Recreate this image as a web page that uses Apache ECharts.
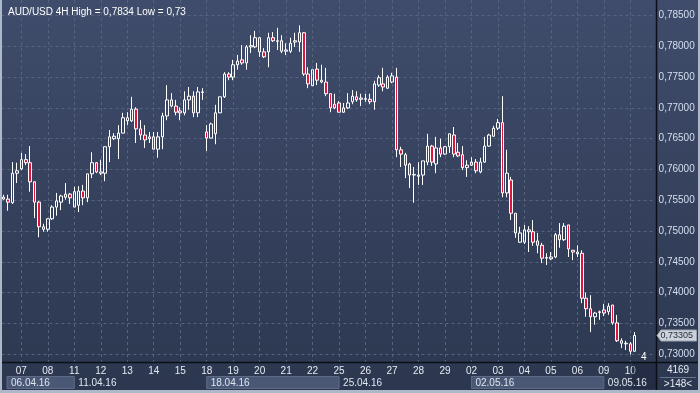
<!DOCTYPE html>
<html><head><meta charset="utf-8">
<script src="https://cdn.jsdelivr.net/npm/echarts@6/dist/echarts.min.js"></script>
<style>html,body{margin:0;padding:0;background:#2d3850}#c{width:700px;height:393px}</style>
</head><body><div id="c"></div><script>
// ---- data (AUD/USD, 4H) ----
const days = ['06.04.16','07.04.16','08.04.16','11.04.16','12.04.16','13.04.16','14.04.16','15.04.16',
  '18.04.16','19.04.16','20.04.16','21.04.16','22.04.16','25.04.16','26.04.16','27.04.16','28.04.16','29.04.16',
  '02.05.16','03.05.16','04.05.16','05.05.16','06.05.16','09.05.16','10.05.16'];
const hours = ['00:00','04:00','08:00','12:00','16:00','20:00'];
const firstDayHours = ['08:00','12:00','16:00','20:00'];
const weekLabels = ['06.04.16','11.04.16','18.04.16','25.04.16','02.05.16','09.05.16'];
const opens = [0.7552,0.7552,0.7546,0.7594,0.7601,0.7616,0.7611,0.7580,0.7547,0.7503,
0.7503,0.7520,0.7539,0.7547,0.7555,0.7560,0.7539,0.7542,0.7565,0.7554,
0.7593,0.7611,0.7594,0.7594,0.7637,0.7650,0.7650,0.7659,0.7679,0.7679,
0.7698,0.7666,0.7656,0.7650,0.7653,0.7633,0.7653,0.7687,0.7713,0.7703,
0.7695,0.7692,0.7713,0.7719,0.7692,0.7725,0.7661,0.7651,0.7658,0.7692,
0.7718,0.7755,0.7750,0.7770,0.7778,0.7773,0.7799,0.7799,0.7814,0.7791,
0.7791,0.7814,0.7808,0.7809,0.7792,0.7792,0.7807,0.7807,0.7822,0.7755,
0.7736,0.7763,0.7745,0.7742,0.7723,0.7706,0.7708,0.7693,0.7700,0.7710,
0.7718,0.7714,0.7714,0.7714,0.7710,0.7737,0.7739,0.7732,0.7742,0.7750,
0.7632,0.7624,0.7609,0.7591,0.7589,0.7591,0.7612,0.7638,0.7609,0.7635,
0.7625,0.7637,0.7656,0.7628,0.7624,0.7603,0.7607,0.7612,0.7596,0.7612,
0.7638,0.7654,0.7667,0.7676,0.7562,0.7583,0.7529,0.7482,0.7482,0.7499,
0.7499,0.7484,0.7477,0.7456,0.7455,0.7458,0.7494,0.7486,0.7510,0.7469,
0.7463,0.7464,0.7391,0.7374,0.7361,0.7368,0.7372,0.7369,0.7380,0.7351,
0.7318,0.7317,0.7317,0.7305];
const closes = [0.7555,0.7547,0.7594,0.7598,0.7616,0.7611,0.7580,0.7547,0.7507,0.7507,
0.7520,0.7539,0.7549,0.7557,0.7560,0.7554,0.7564,0.7565,0.7554,0.7593,
0.7611,0.7596,0.7596,0.7637,0.7653,0.7654,0.7659,0.7684,0.7684,0.7698,
0.7666,0.7656,0.7648,0.7653,0.7633,0.7653,0.7687,0.7713,0.7703,0.7693,
0.7692,0.7713,0.7719,0.7692,0.7726,0.7726,0.7651,0.7674,0.7692,0.7718,
0.7755,0.7750,0.7770,0.7776,0.7773,0.7799,0.7801,0.7814,0.7791,0.7783,
0.7814,0.7809,0.7809,0.7792,0.7794,0.7805,0.7809,0.7822,0.7755,0.7739,
0.7762,0.7745,0.7742,0.7723,0.7700,0.7700,0.7693,0.7700,0.7708,0.7719,
0.7713,0.7716,0.7715,0.7710,0.7739,0.7749,0.7734,0.7750,0.7752,0.7632,
0.7625,0.7607,0.7591,0.7592,0.7591,0.7614,0.7638,0.7612,0.7635,0.7625,
0.7637,0.7658,0.7625,0.7622,0.7603,0.7607,0.7612,0.7598,0.7612,0.7638,
0.7656,0.7667,0.7676,0.7562,0.7594,0.7529,0.7497,0.7497,0.7502,0.7502,
0.7482,0.7477,0.7456,0.7457,0.7458,0.7494,0.7486,0.7508,0.7471,0.7466,
0.7466,0.7391,0.7374,0.7361,0.7367,0.7369,0.7367,0.7378,0.7351,0.7322,
0.7322,0.7318,0.7305,0.73305];
const lows = [0.7551,0.7533,0.7544,0.7578,0.7599,0.7607,0.7564,0.7521,0.7490,0.7499,
0.7499,0.7518,0.7525,0.7534,0.7551,0.7544,0.7539,0.7531,0.7542,0.7547,
0.7586,0.7594,0.7591,0.7581,0.7612,0.7648,0.7617,0.7659,0.7672,0.7677,
0.7643,0.7648,0.7635,0.7643,0.7633,0.7619,0.7633,0.7680,0.7701,0.7688,
0.7680,0.7688,0.7697,0.7685,0.7685,0.7713,0.7630,0.7650,0.7641,0.7692,
0.7716,0.7745,0.7745,0.7762,0.7770,0.7762,0.7789,0.7797,0.7783,0.7781,
0.7766,0.7807,0.7794,0.7789,0.7786,0.7789,0.7799,0.7791,0.7752,0.7732,
0.7736,0.7737,0.7740,0.7719,0.7693,0.7698,0.7693,0.7692,0.7698,0.7706,
0.7710,0.7703,0.7710,0.7706,0.7697,0.7734,0.7727,0.7731,0.7740,0.7620,
0.7604,0.7586,0.7570,0.7546,0.7575,0.7575,0.7607,0.7606,0.7594,0.7620,
0.7624,0.7627,0.7620,0.7620,0.7599,0.7588,0.7606,0.7594,0.7594,0.7611,
0.7637,0.7653,0.7664,0.7555,0.7555,0.7518,0.7489,0.7481,0.7479,0.7466,
0.7476,0.7464,0.7448,0.7445,0.7453,0.7456,0.7473,0.7484,0.7458,0.7453,
0.7458,0.7383,0.7361,0.7336,0.7348,0.7356,0.7362,0.7364,0.7348,0.7320,
0.7310,0.7307,0.7300,0.7304];
const highs = [0.7559,0.7559,0.7612,0.7611,0.7627,0.7625,0.7638,0.7581,0.7549,0.7512,
0.7521,0.7542,0.7562,0.7559,0.7578,0.7562,0.7572,0.7573,0.7575,0.7593,
0.7628,0.7612,0.7616,0.7637,0.7664,0.7659,0.7672,0.7692,0.7693,0.7718,
0.7701,0.7680,0.7672,0.7661,0.7661,0.7661,0.7692,0.7737,0.7724,0.7713,
0.7701,0.7727,0.7734,0.7727,0.7734,0.7732,0.7672,0.7676,0.7705,0.7718,
0.7758,0.7758,0.7778,0.7786,0.7802,0.7802,0.7818,0.7825,0.7815,0.7797,
0.7822,0.7823,0.7830,0.7818,0.7805,0.7814,0.7822,0.7834,0.7823,0.7766,
0.7762,0.7773,0.7770,0.7765,0.7723,0.7723,0.7711,0.7708,0.7724,0.7729,
0.7727,0.7723,0.7723,0.7723,0.7744,0.7753,0.7765,0.7753,0.7757,0.7765,
0.7637,0.7627,0.7611,0.7604,0.7612,0.7614,0.7658,0.7640,0.7653,0.7650,
0.7638,0.7658,0.7669,0.7643,0.7638,0.7615,0.7620,0.7617,0.7619,0.7653,
0.7658,0.7671,0.7682,0.7719,0.7632,0.7588,0.7529,0.7507,0.7510,0.7508,
0.7518,0.7497,0.7481,0.7464,0.7466,0.7497,0.7513,0.7513,0.7510,0.7469,
0.7477,0.7469,0.7400,0.7396,0.7369,0.7371,0.7382,0.7383,0.7380,0.7364,
0.7326,0.7322,0.7320,0.7336];
const priceMin = 0.730, priceMax = 0.785, priceStep = 0.005;
const title = 'AUD/USD 4H High = 0,7834 Low = 0,73';
const barsInfo = '4169', visibleInfo = '>148<', cornerMark = '4';

// ---- build categories ----
const categories = [];
days.forEach((d, i) => (i === 0 ? firstDayHours : hours).forEach(h => categories.push(d + ' ' + h)));
const candles = categories.map((c, i) => i < opens.length ? [opens[i], closes[i], lows[i], highs[i]] : '-');
const isDayStart = (i, v) => typeof v === 'string' && v.endsWith('00:00');

// ---- layout ----
const W = 700, H = 393;
const PL = 1.5, PR = 654.6;
const slot = (PR - PL) / categories.length;
const FONT = 'Liberation Sans, Arial, sans-serif';
const FS = 10;
const dash = { color: '#55637f', type: [3, 3], width: 1 };

const chart = echarts.init(document.getElementById('c'), null, { renderer: 'canvas' });
chart.setOption({
  animation: false,
  backgroundColor: new echarts.graphic.LinearGradient(0, 0, 0, 1, [
    { offset: 0, color: '#3f4c6b' }, { offset: 1, color: '#2c374f' }]),
  title: { text: title, left: 3, top: 2, textStyle: { color: '#ffffff', fontSize: FS, fontWeight: 'normal', fontFamily: FONT } },
  grid: [
    { left: PL, right: W - PR, top: 15.5, bottom: H - 354.3 },
    { left: PL + slot / 2, right: W - PR + slot / 2, top: 0, bottom: H - 362 }
  ],
  xAxis: [
    { type: 'category', gridIndex: 0, data: categories, boundaryGap: true, show: false },
    { type: 'category', gridIndex: 1, data: categories, boundaryGap: false,
      axisLine: { show: false }, axisTick: { show: false },
      axisLabel: { interval: isDayStart, formatter: v => v.slice(0, 2), color: '#e6ebf3', fontSize: FS, fontFamily: FONT, margin: 4 },
      splitLine: { show: true, interval: isDayStart, lineStyle: dash } }
  ],
  yAxis: [
    { type: 'value', gridIndex: 0, position: 'right', min: priceMin, max: priceMax, interval: priceStep,
      axisLine: { show: false }, axisTick: { show: false },
      axisLabel: { formatter: v => v.toFixed(5).replace('.', ','), color: '#d5dff0', fontSize: FS, fontFamily: FONT, margin: 4 },
      splitLine: { show: true, lineStyle: dash } },
    { type: 'value', gridIndex: 1, show: false, min: 0, max: 1 }
  ],
  series: [{
    type: 'candlestick', xAxisIndex: 0, yAxisIndex: 0, data: candles, barWidth: 3, silent: true,
    itemStyle: { color: 'transparent', color0: '#e0153f', borderColor: '#ffffff', borderColor0: '#ffffff', borderWidth: 1 }
  }]
});

// ---- decorations positioned from the axes ----
const xAt = i => chart.convertToPixel({ xAxisIndex: 1 }, i);
const g = [];
const weekIdx = weekLabels.map(w => categories.findIndex(c => c.startsWith(w)));
weekIdx.forEach((idx, k) => {
  const x0 = k === 0 ? 7 : xAt(idx);
  const x1 = k + 1 < weekIdx.length ? xAt(weekIdx[k + 1]) : 656;
  if (k % 2 === 0) g.push({ type: 'rect', shape: { x: x0, y: 376.5, width: x1 - x0, height: 12 }, style: { fill: '#4a5876', stroke: '#5d6b88', lineWidth: 1 }, z: 5 });
  g.push({ type: 'text', x: x0 + 4, y: 383, style: { text: weekLabels[k], fill: '#dfe6f0', font: FS + 'px ' + FONT, textVerticalAlign: 'middle' }, z: 6 });
});
g.push({ type: 'rect', shape: { x: 632, y: 363, width: 24, height: 26 }, style: { fill: 'rgba(20,26,42,0.35)' }, z: 4 });
g.push({ type: 'text', x: 641, y: 357.5, style: { text: cornerMark, fill: '#ffffff', font: FS + 'px ' + FONT, textVerticalAlign: 'middle' }, z: 6 });
g.push({ type: 'line', shape: { x1: 0, y1: 362.5, x2: 698, y2: 362.5 }, style: { stroke: '#0b0f18', lineWidth: 1.5 }, z: 7 });
g.push({ type: 'line', shape: { x1: 656.5, y1: 0, x2: 656.5, y2: 390 }, style: { stroke: '#0b0f18', lineWidth: 1.5 }, z: 7 });
g.push({ type: 'line', shape: { x1: 660, y1: 377.5, x2: 696, y2: 377.5 }, style: { stroke: '#66738f', lineWidth: 1 }, z: 7 });
g.push({ type: 'text', x: 678, y: 370, style: { text: barsInfo, fill: '#e6ebf3', font: FS + 'px ' + FONT, textAlign: 'center', textVerticalAlign: 'middle' }, z: 7 });
g.push({ type: 'text', x: 678, y: 384, style: { text: visibleInfo, fill: '#e6ebf3', font: FS + 'px ' + FONT, textAlign: 'center', textVerticalAlign: 'middle' }, z: 7 });
const lastClose = closes[closes.length - 1];
const yP = chart.convertToPixel({ yAxisIndex: 0 }, lastClose);
g.push({ type: 'polygon', shape: { points: [[657, yP], [661, yP - 5.5], [696.5, yP - 5.5], [696.5, yP + 5.5], [661, yP + 5.5]] }, style: { fill: '#cdd2da', stroke: '#9aa3b3', lineWidth: 1 }, z: 8 });
g.push({ type: 'text', x: 660.5, y: yP, style: { text: lastClose.toFixed(5).replace('.', ','), fill: '#1d273b', font: '9px ' + FONT, textVerticalAlign: 'middle' }, z: 9 });
g.push({ type: 'rect', shape: { x: 0, y: 0, width: 2, height: H }, style: { fill: '#aeb8c8' }, z: 10 });
g.push({ type: 'rect', shape: { x: 0, y: 390, width: W, height: 3 }, style: { fill: '#aeb8c8' }, z: 10 });
g.push({ type: 'rect', shape: { x: 698, y: 0, width: 2, height: H }, style: { fill: '#aeb8c8' }, z: 10 });
chart.setOption({ graphic: g });
</script></body></html>
